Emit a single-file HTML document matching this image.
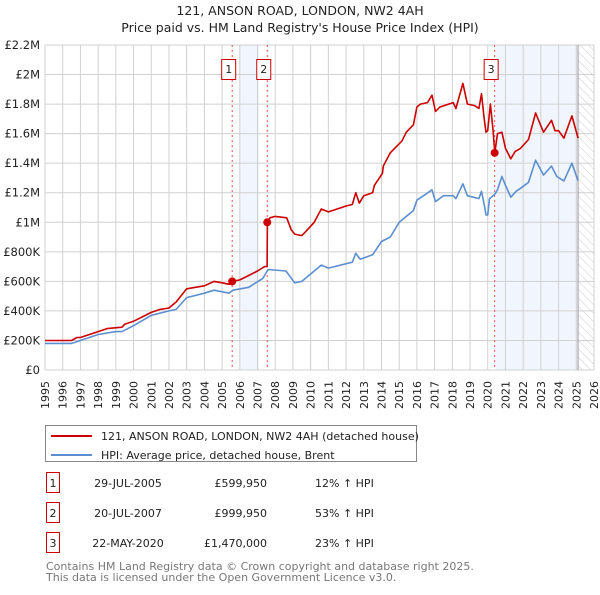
<!DOCTYPE html>
<html><head><meta charset="utf-8"><style>
body{margin:0;background:#fff;font-family:"Liberation Sans","DejaVu Sans",sans-serif;}
svg text{font-family:"DejaVu Sans","Liberation Sans",sans-serif;}
</style></head><body>
<svg id="c" width="600" height="590" xmlns="http://www.w3.org/2000/svg">
<text x="300" y="15" text-anchor="middle" font-size="12.5" fill="#222">121, ANSON ROAD, LONDON, NW2 4AH</text>
<text x="300" y="32" text-anchor="middle" font-size="12.5" fill="#222">Price paid vs. HM Land Registry's House Price Index (HPI)</text>
<defs><pattern id="h" width="6" height="6" patternUnits="userSpaceOnUse" patternTransform="rotate(-45)"><line x1="0" y1="0" x2="0" y2="6" stroke="#ccc" stroke-width="1"/></pattern></defs>
<g id="plot"></g>
<g>
<rect x="45.5" y="425.5" width="371" height="36" fill="#fff" stroke="#888"/>
<line x1="51" y1="436" x2="92" y2="436" stroke="#cc0000" stroke-width="2"/>
<text x="101" y="440" font-size="11" fill="#222">121, ANSON ROAD, LONDON, NW2 4AH (detached house)</text>
<line x1="51" y1="455" x2="92" y2="455" stroke="#5b8fd0" stroke-width="2"/>
<text x="101" y="459" font-size="11" fill="#222">HPI: Average price, detached house, Brent</text>
</g>
<g id="tbl" font-size="11" fill="#222"></g>
<text x="46" y="570" font-size="11" fill="#777">Contains HM Land Registry data © Crown copyright and database right 2025.</text>
<text x="46" y="581" font-size="11" fill="#777">This data is licensed under the Open Government Licence v3.0.</text>
</svg>
<script>
const redYears=[1995,1996,1996.5,1996.8,1997,1998,1998.5,1999.35,1999.5,2000,2001,2001.5,2002,2002.2,2002.4,2003,2003.5,2004,2004.55,2005,2005.4,2005.57,2006,2006.5,2007,2007.4,2007.54,2007.56,2007.7,2008,2008.65,2008.9,2009.1,2009.5,2009.75,2010.2,2010.6,2011,2011.5,2012,2012.35,2012.55,2012.75,2013,2013.5,2013.6,2014.05,2014.1,2014.5,2015.15,2015.4,2015.8,2016,2016.2,2016.6,2016.85,2017.05,2017.3,2018.05,2018.2,2018.6,2018.85,2019.25,2019.5,2019.65,2019.8,2019.9,2020.0,2020.15,2020.3,2020.4,2020.55,2020.8,2021.0,2021.3,2021.55,2021.85,2022.3,2022.7,2023.15,2023.6,2023.8,2024.0,2024.3,2024.75,2025.1];
const redValues=[0.20,0.20,0.20,0.22,0.22,0.26,0.28,0.29,0.31,0.33,0.39,0.41,0.42,0.44,0.46,0.55,0.56,0.57,0.60,0.59,0.58,0.60,0.61,0.64,0.67,0.70,0.70,1.00,1.03,1.04,1.03,0.95,0.92,0.91,0.94,1.00,1.09,1.07,1.09,1.11,1.12,1.20,1.13,1.18,1.20,1.25,1.33,1.38,1.47,1.55,1.61,1.66,1.78,1.80,1.81,1.86,1.75,1.78,1.81,1.77,1.94,1.80,1.79,1.77,1.87,1.70,1.61,1.62,1.80,1.62,1.47,1.60,1.61,1.50,1.43,1.48,1.50,1.56,1.74,1.61,1.69,1.62,1.62,1.57,1.72,1.57];
const hpiYears=[1995,1996.5,1997,1998,1999,1999.35,2000,2001,2002,2002.4,2003,2004,2004.55,2005.4,2005.6,2006.5,2007.3,2007.6,2008.6,2009.1,2009.5,2010.6,2011,2012.35,2012.55,2012.8,2013.5,2014.0,2014.5,2015.0,2015.4,2015.8,2016.0,2016.5,2016.85,2017.05,2017.5,2018.05,2018.2,2018.6,2018.85,2019.5,2019.65,2019.8,2019.9,2020.0,2020.1,2020.4,2020.55,2020.8,2021.0,2021.3,2021.6,2021.85,2022.3,2022.7,2023.15,2023.6,2023.9,2024.3,2024.75,2025.1];
const hpiValues=[0.18,0.18,0.20,0.24,0.26,0.26,0.30,0.37,0.40,0.41,0.49,0.52,0.54,0.52,0.54,0.56,0.62,0.68,0.67,0.59,0.60,0.71,0.69,0.73,0.79,0.75,0.78,0.87,0.90,1.00,1.04,1.08,1.15,1.19,1.22,1.14,1.18,1.18,1.16,1.26,1.18,1.16,1.21,1.12,1.05,1.05,1.16,1.19,1.22,1.31,1.25,1.17,1.21,1.23,1.27,1.42,1.32,1.38,1.31,1.28,1.40,1.28];
const saleYears=[2005.57,2007.55,2020.39];
const saleValues=[0.59995,0.99995,1.47];
const saleLabels=["1","2","3"];
const saleDates=["29-JUL-2005","20-JUL-2007","22-MAY-2020"];
const salePrices=["£599,950","£999,950","£1,470,000"];
const saleHpi=["12% ↑ HPI","53% ↑ HPI","23% ↑ HPI"];
const yTicks=[0,0.2,0.4,0.6,0.8,1.0,1.2,1.4,1.6,1.8,2.0,2.2];
const yTickLabels=["£0","£200K","£400K","£600K","£800K","£1M","£1.2M","£1.4M","£1.6M","£1.8M","£2M","£2.2M"];
const xTicks=[1995,1996,1997,1998,1999,2000,2001,2002,2003,2004,2005,2006,2007,2008,2009,2010,2011,2012,2013,2014,2015,2016,2017,2018,2019,2020,2021,2022,2023,2024,2025,2026];

const L=45,R=594,T=45,B=370,X0=1995,X1=2026,YMAX=2.2;
const sx=v=>L+(v-X0)/(X1-X0)*(R-L);
const sy=v=>B-v/YMAX*(B-T);
const NS="http://www.w3.org/2000/svg";
const plot=document.getElementById('plot');
function mk(tag,attrs,parent){const e=document.createElementNS(NS,tag);for(const k in attrs)e.setAttribute(k,attrs[k]);(parent||plot).appendChild(e);return e;}

let e;
e=mk('rect',{x:sx(2005.95),y:T,width:sx(2007.1)-sx(2005.95),height:B-T,fill:'#eef3fc',opacity:0.8});


e=mk('rect',{x:sx(2020.45),y:T,width:sx(2025.1)-sx(2020.45),height:B-T,fill:'#eef3fc',opacity:0.8});


e=mk('rect',{x:sx(2025.1),y:T,width:R-sx(2025.1),height:B-T,fill:'url(#h)'});



xTicks.forEach(t=>{
  e=mk('line',{x1:sx(t),x2:sx(t),y1:T,y2:B,stroke:'#d0d0d0','stroke-width':1});
  
  
  e=mk('text',{x:0,y:0,transform:`translate(${sx(t)+4},381) rotate(-90)`,'text-anchor':'end','font-size':11,fill:'#222'});
  e.textContent=t;
  
  
});
yTicks.forEach((t,i)=>{
  e=mk('line',{x1:L,x2:R,y1:sy(t),y2:sy(t),stroke:'#d0d0d0','stroke-width':1});
  
  
  e=mk('text',{x:40,y:sy(t)+4,'text-anchor':'end','font-size':11.5,fill:'#222'});
  e.textContent=yTickLabels[i];
  
  
});
e=mk('line',{x1:sx(2025.1),x2:sx(2025.1),y1:T,y2:B,stroke:'#999','stroke-width':1});



saleYears.forEach((y,i)=>{
  e=mk('line',{x1:sx(y),x2:sx(y),y1:T,y2:B,stroke:'#e05050','stroke-width':1,'stroke-dasharray':'2,3'});
  
  
});

function path(xs,vs,color,name){
  const d=xs.map((x,i)=>(i?'L':'M')+sx(x).toFixed(1)+','+sy(vs[i]).toFixed(1)).join('');
  const p=mk('path',{d:d,fill:'none',stroke:color,'stroke-width':1.6,'stroke-linejoin':'round'});
  
  
}
path(hpiYears,hpiValues,'#5b8fd0','hpi-line');
path(redYears,redValues,'#cc0000','property-price-line');

saleYears.forEach((y,i)=>{
  e=mk('circle',{cx:sx(y),cy:sy(saleValues[i]),r:4,fill:'#cc0000'});
  
  
  const bx=sx(y)-10.5;
  e=mk('rect',{x:bx,y:59.5,width:14,height:20,fill:'#fff',stroke:'#cc0000','stroke-width':1});
  
  
  e=mk('text',{x:bx+7,y:73,'text-anchor':'middle','font-size':11,fill:'#222'});
  e.textContent=saleLabels[i];
  
  
});

const tbl=document.getElementById('tbl');
saleLabels.forEach((s,i)=>{
  const y=483+i*30;
  e=mk('rect',{x:46.5,y:y-10.5,width:13,height:20,fill:'#fff',stroke:'#cc0000'},tbl);
  
  
  e=mk('text',{x:53,y:y+4,'text-anchor':'middle'},tbl);e.textContent=s;
  
  
  e=mk('text',{x:128,y:y+4,'text-anchor':'middle'},tbl);e.textContent=saleDates[i];
  
  
  e=mk('text',{x:267,y:y+4,'text-anchor':'end'},tbl);e.textContent=salePrices[i];
  
  
  e=mk('text',{x:315,y:y+4},tbl);e.textContent=saleHpi[i];
  
  
});
</script>
</body></html>
